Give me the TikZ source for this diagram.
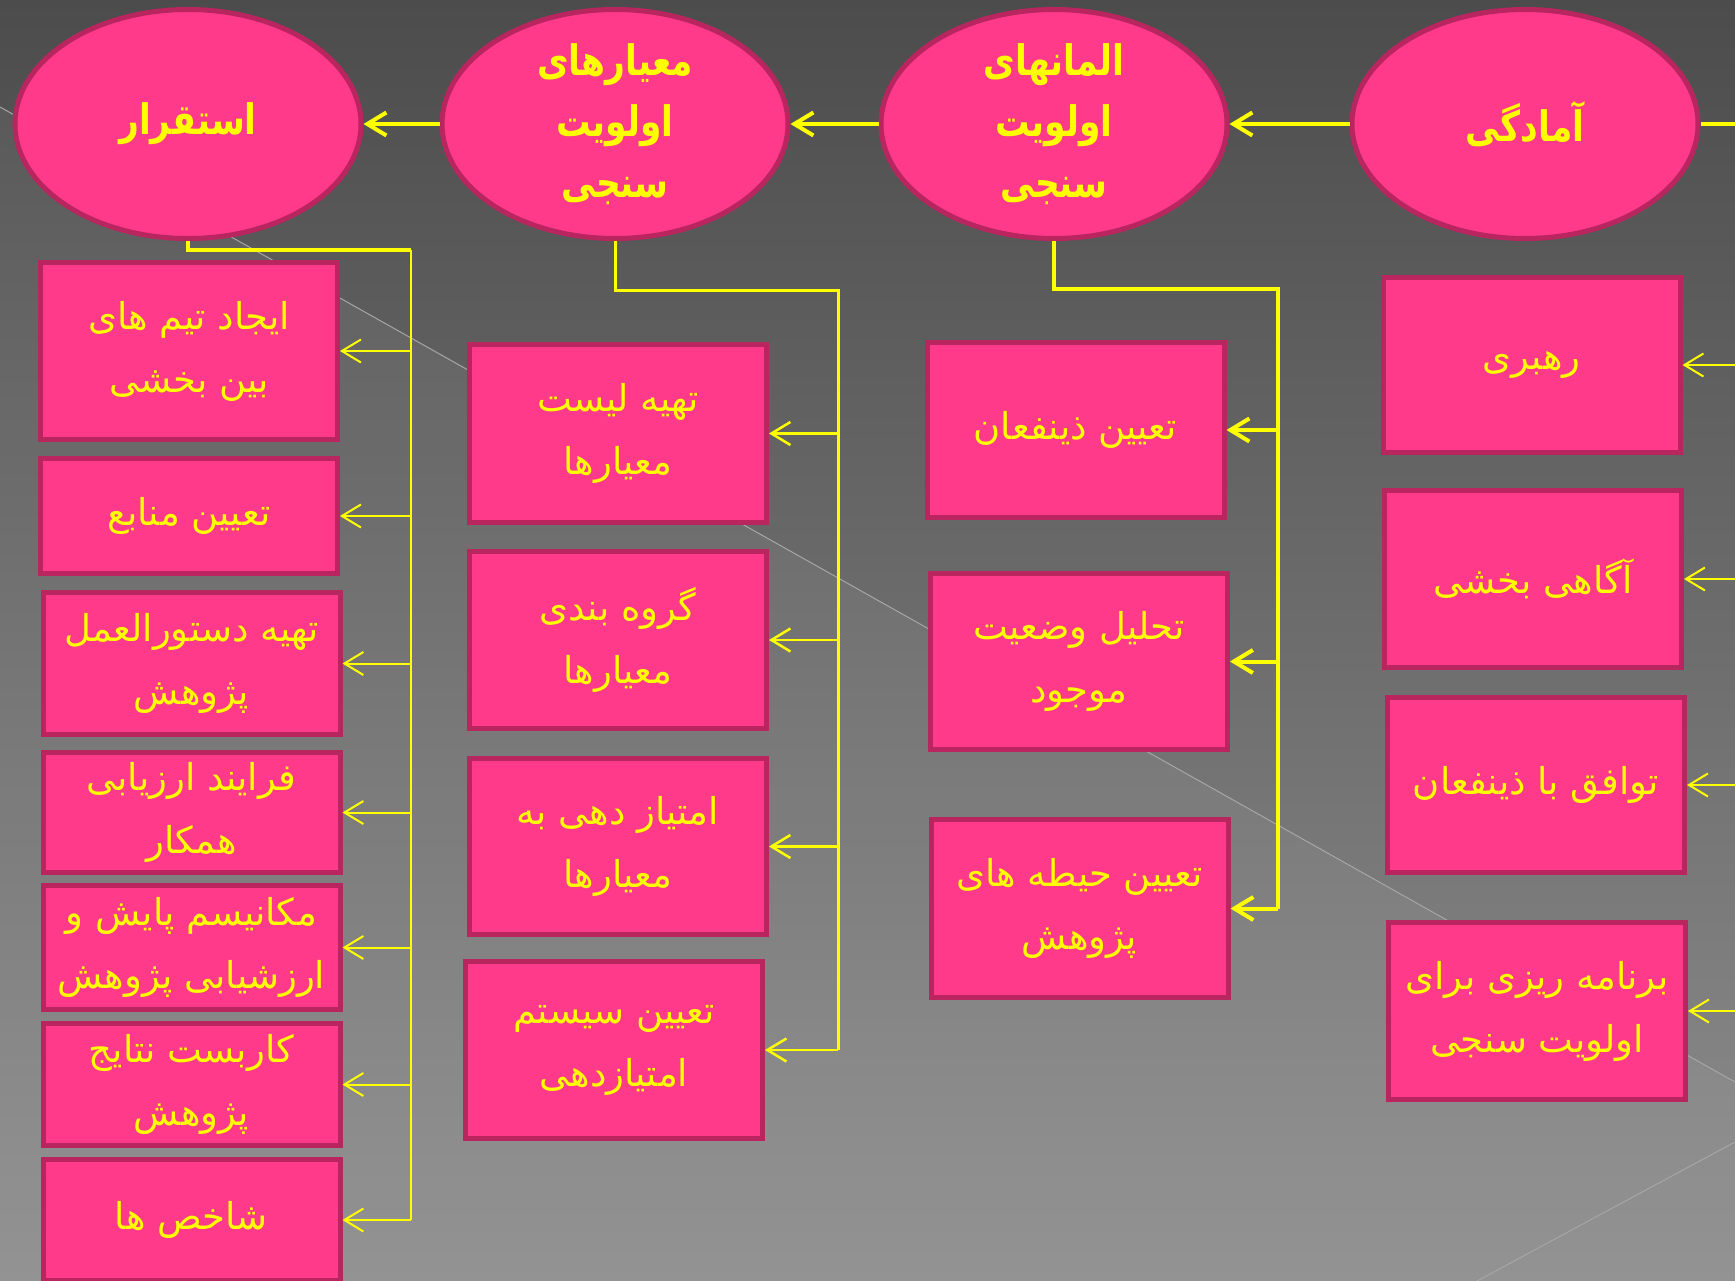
\documentclass[tikz,border=0pt]{standalone}
\usepackage{fontspec}
\usetikzlibrary{arrows.meta,shapes.geometric,calc}
\TeXXeTstate=1
\newfontfamily\arabicfont[Script=Arabic]{DejaVu Sans}
\newfontfamily\arabicheavy[Script=Arabic, FakeStretch=0.82]{DejaVu Sans Bold}
\newcommand\prs[1]{\beginR #1\endR}

\definecolor{bgtop}{HTML}{4C4C4C}
\definecolor{bgbot}{HTML}{8E8E8E}
\definecolor{pinkfill}{HTML}{FF3A8B}
\definecolor{pinkedge}{HTML}{B8255F}
\definecolor{txtyellow}{HTML}{FFFF00}
\definecolor{streak}{HTML}{A6A6A6}

\begin{document}
\begin{tikzpicture}[x=1pt,y=-1pt,
  stage/.style={ellipse, draw=pinkedge, line width=5pt, fill=pinkfill,
    minimum width=346pt, minimum height=229pt, inner sep=0pt,
    text=txtyellow, align=center,
    font=\arabicheavy\fontsize{42}{61}\selectfont},
  task/.style={rectangle, draw=pinkedge, line width=5pt, fill=pinkfill,
    minimum width=297pt, inner sep=0pt, text=txtyellow, align=center,
    font=\arabicfont\fontsize{37}{63}\selectfont},
  link/.style={draw=txtyellow, line width=#1},
  link/.default=2pt,
  tip/.style={-{Straight Barb[length=19pt,width=23pt]}}
]
% canvas and background
\useasboundingbox (0,0) rectangle (1735,1281);
\clip (0,0) rectangle (1735,1281);
\fill[top color=bgtop, bottom color=bgbot] (0,0) rectangle (1735,1281);
\fill[white, opacity=0.05] (0,107) -- (1735,1082) -- (1735,1281) -- (0,1281) -- cycle;
\draw[streak, line width=1pt] (0,107) -- (1735,1082);
\draw[streak, line width=1pt] (1477,1281) -- (1735,1142);

% stages
\node[stage] (e1) at (188,124) {\prs{استقرار}};
\node[stage] (e2) at (615,124) {\prs{معیارهای}\\\prs{اولویت}\\\prs{سنجی}};
\node[stage] (e3) at (1054,124) {\prs{المانهای}\\\prs{اولویت}\\\prs{سنجی}};
\node[stage] (e4) at (1525,124) {\prs{آمادگی}};
\coordinate (redge) at (1735,0);

\draw[link=4pt] (e4.east) -- (e4.east -| redge);
\draw[link=4pt, tip] (e4.west) -- (e3.east);
\draw[link=4pt, tip] (e3.west) -- (e2.east);
\draw[link=4pt, tip] (e2.west) -- (e1.east);

% column: استقرار
\node[task, minimum height=177pt] (b11) at (189,351) {\prs{ایجاد تیم های}\\\prs{بین بخشی}};
\node[task, minimum height=115pt] (b12) at (189,516) {\prs{تعیین منابع}};
\node[task, minimum height=142pt] (b13) at (191.5,663.5) {\prs{تهیه دستورالعمل}\\\prs{پژوهش}};
\node[task, minimum height=120pt] (b14) at (191.5,812.5) {\prs{فرایند ارزیابی}\\\prs{همکار}};
\node[task, minimum height=124pt] (b15) at (191.5,947.5) {\prs{مکانیسم پایش و}\\\prs{ارزشیابی پژوهش}};
\node[task, minimum height=122pt] (b16) at (191.5,1084.5) {\prs{کاربست نتایج}\\\prs{پژوهش}};
\node[task, minimum height=121pt] (b17) at (191.5,1220) {\prs{شاخص ها}};

% column: معیارهای اولویت سنجی
\node[task, minimum height=178pt] (b21) at (618,433.5) {\prs{تهیه لیست}\\\prs{معیارها}};
\node[task, minimum height=177pt] (b22) at (618,640) {\prs{گروه بندی}\\\prs{معیارها}};
\node[task, minimum height=176pt] (b23) at (618,846.5) {\prs{امتیاز دهی به}\\\prs{معیارها}};
\node[task, minimum height=177pt] (b24) at (614,1050) {\prs{تعیین سیستم}\\\prs{امتیازدهی}};

% column: المانهای اولویت سنجی
\node[task, minimum height=175pt] (b31) at (1075.5,430) {\prs{تعیین ذینفعان}};
\node[task, minimum height=176pt] (b32) at (1079,661.5) {\prs{تحلیل وضعیت}\\\prs{موجود}};
\node[task, minimum height=178pt] (b33) at (1079.5,908.5) {\prs{تعیین حیطه های}\\\prs{پژوهش}};

% column: آمادگی
\node[task, minimum height=175pt] (b41) at (1531.5,365) {\prs{رهبری}};
\node[task, minimum height=177pt] (b42) at (1533,579) {\prs{آگاهی بخشی}};
\node[task, minimum height=175pt] (b43) at (1536,785) {\prs{توافق با ذینفعان}};
\node[task, minimum height=177pt] (b44) at (1537,1011) {\prs{برنامه ریزی برای}\\\prs{اولویت سنجی}};

% buses
\coordinate (k1) at (411,250);
\coordinate (k2) at (838,291);
\coordinate (k3) at (1278,289);

\draw[link=4.5pt] (e1.south) |- (k1);
\draw[link=2pt] (k1) -- (k1 |- b17.east);
\foreach \b in {b11,b12,b13,b14,b15,b16,b17}
  \draw[link=2pt, tip] (k1 |- \b.east) -- (\b.east);

\draw[link=3pt] (e2.south) |- (k2) -- (k2 |- b24.east);
\foreach \b in {b21,b22,b23,b24}
  \draw[link=2.5pt, tip] (k2 |- \b.east) -- (\b.east);

\draw[link=4pt] (e3.south) |- (k3) -- (k3 |- b33.east);
\foreach \b in {b31,b32,b33}
  \draw[link=4pt, tip] (k3 |- \b.east) -- (\b.east);

\foreach \b in {b41,b42,b43,b44}
  \draw[link=2pt, tip] (\b.east -| redge) -- (\b.east);
\end{tikzpicture}
\end{document}
